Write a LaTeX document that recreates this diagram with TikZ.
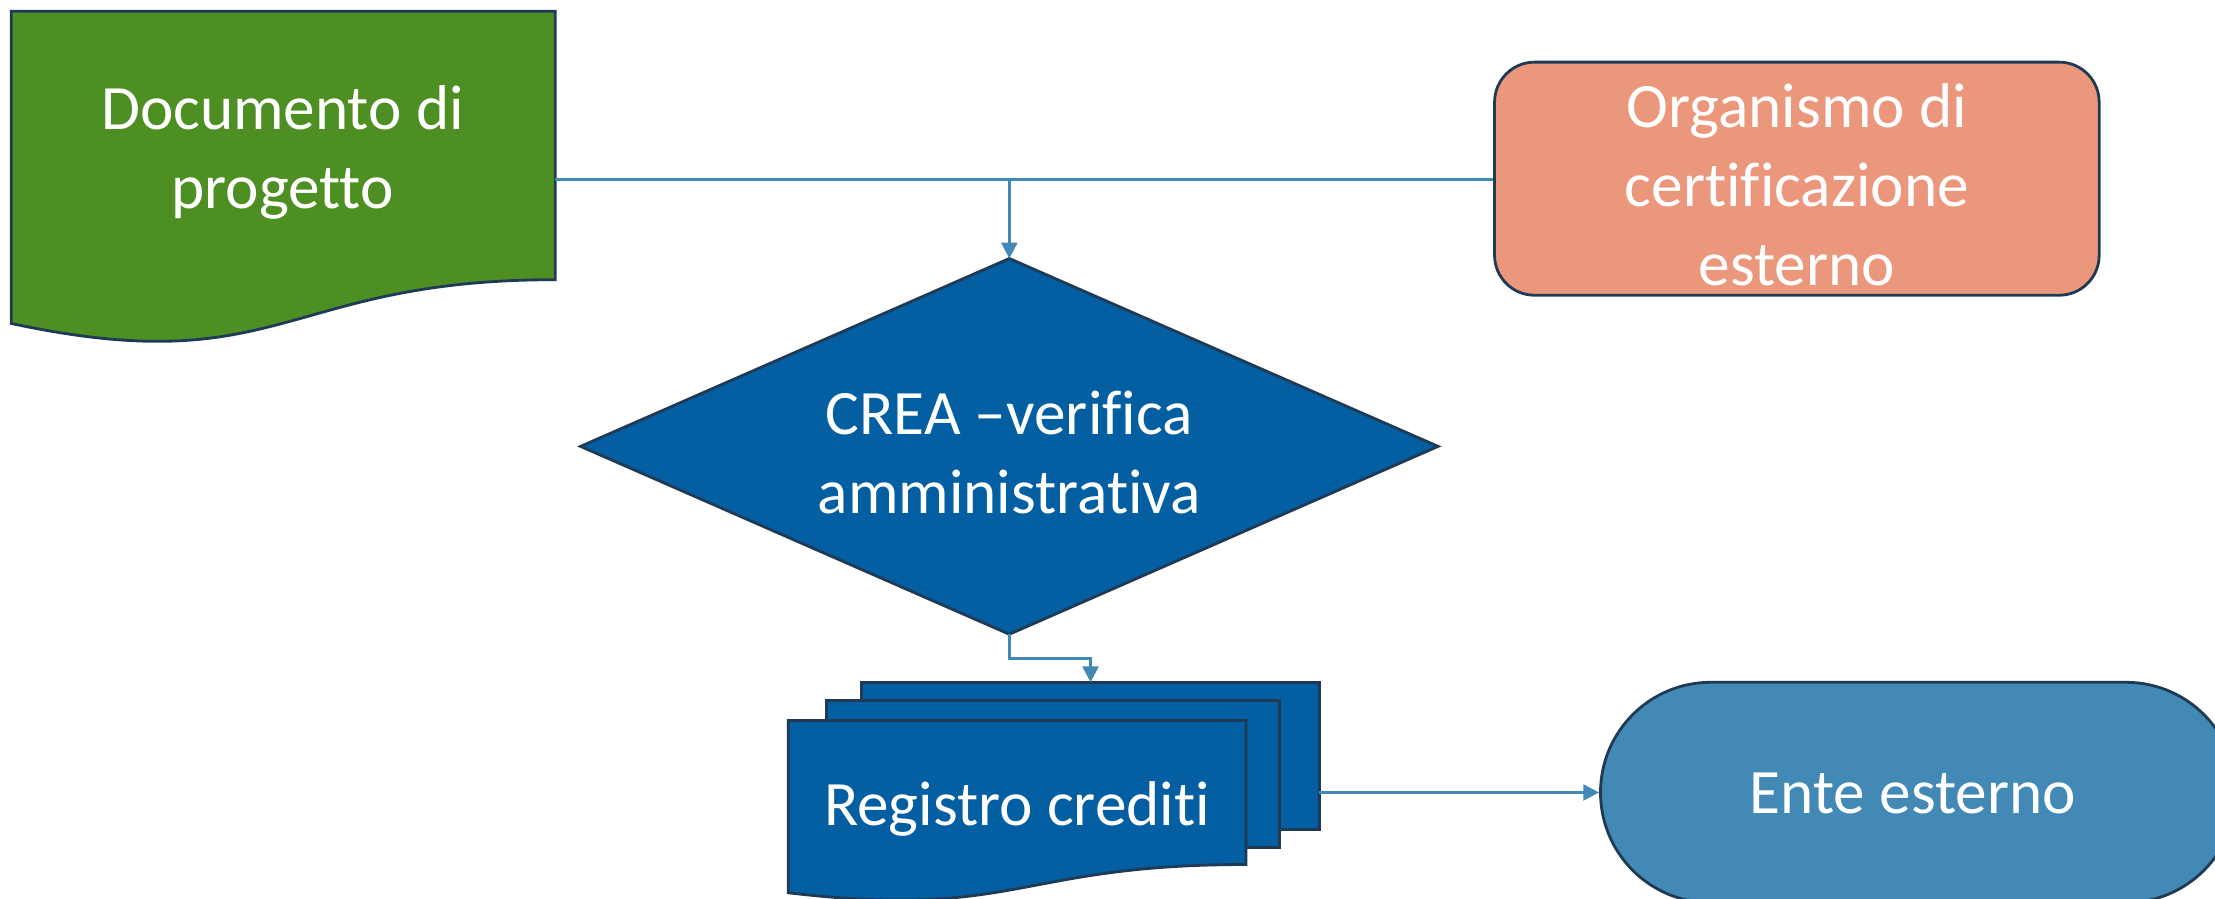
\documentclass[tikz,border=0pt]{standalone}
\usepackage{fontspec}
\setmainfont{Carlito}[Ligatures={NoCommon}]
\usetikzlibrary{shapes.geometric,shapes.misc,arrows.meta}
\definecolor{docgreen}{HTML}{4E8F23}
\definecolor{creablue}{HTML}{035FA2}
\definecolor{orgsalmon}{HTML}{EB977B}
\definecolor{entblue}{HTML}{428AB5}
\definecolor{edgecol}{HTML}{1F3A55}
\definecolor{conncol}{HTML}{428AB5}
\def\pxu{0.014126cm}
\begin{document}
\begin{tikzpicture}[x=0.014126cm,y=-0.014126cm,
  shapeline/.style={draw=edgecol, line width=0.8pt, line join=miter},
  lbl/.style={text=white, font=\fontsize{18}{22.5}\selectfont, align=center, inner sep=0pt},
  conn/.style={draw=conncol, line width=0.8pt},
  arr/.style={conn, -{Triangle[width=4.5pt,length=4.5pt]}}]
\useasboundingbox (0,0) rectangle (1568,636);
\clip (0,0) rectangle (1568,636);

% Documento di progetto
\draw[shapeline, fill=docgreen] (8,8) -- (393,8) -- (393,198)
  .. controls (200,198) and (200,270) .. (8,229) -- cycle;
\node[lbl] (doc) at (200,108) {Documento di\\progetto};
\coordinate (docR) at (393,127);

% Organismo di certificazione esterno
\node[shapeline, fill=orgsalmon, rounded corners=0.4cm, inner sep=0pt,
  minimum width={428*\pxu}, minimum height={165*\pxu}] (org) at (1272,126.5) {};
\node[lbl] (orgtxt) at (1272,131) {Organismo di\\certificazione\\esterno};

% CREA diamond
\node[diamond, shapeline, fill=creablue, inner sep=0pt, outer sep=0pt,
  minimum width={607*\pxu}, minimum height={266*\pxu}] (crea) at (714.5,316) {};
\node[lbl] (creatxt) at (714.5,320) {CREA –verifica\\amministrativa};

% Registro crediti (multi-document)
\draw[shapeline, fill=creablue] (610,483) rectangle (934,587);
\draw[shapeline, fill=creablue] (585,496) rectangle (906,600);
\draw[shapeline, fill=creablue] (558,510) -- (882,510) -- (882,612)
  .. controls (720,612) and (720,651) .. (558,632) -- cycle;
\node[lbl] (reg) at (720,573) {Registro crediti};
\coordinate (regTop) at (772,483);
\coordinate (regR) at (934,561);

% Ente esterno
\node[rounded rectangle, shapeline, fill=entblue, inner sep=0pt,
  minimum width={450*\pxu}, minimum height={156*\pxu}] (ente) at (1358,561) {};
\node[lbl] (entetxt) at (1354,562) {Ente esterno};

% connectors
\coordinate (junc) at (crea.north |- docR);
\draw[conn] (docR) -- (org.west |- docR);
\draw[arr] (junc) -- (crea.north);
\draw[arr] (crea.south) -- ++(0,17) -| (regTop);
\draw[arr] (regR) -- (ente.west);
\end{tikzpicture}
\end{document}
